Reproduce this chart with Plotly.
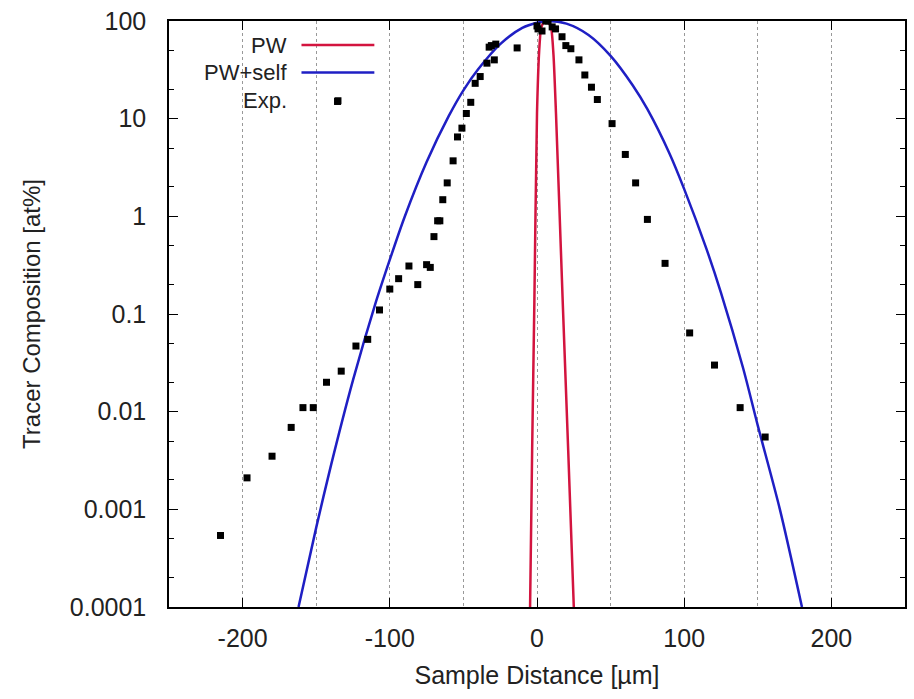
import plotly.graph_objects as go

# ---- data ----
exp_x = [-215, -197, -180, -167, -159, -152, -143, -135.5, -133, -123, -115, -107, -100, -94, -87, -81,
         -75, -72.5, -70, -67.5, -66, -64, -61, -57, -54, -51, -48, -45, -42, -38.6, -34, -32.5,
         -31, -29, -28, -13.5, 0, 0.7, 3.4, 6, 7.5, 10.3, 12.6, 17, 19.6, 23, 28.5, 32.5, 37, 41,
         51, 60, 67, 75, 87, 103.7, 120.6, 138, 155]
exp_y = [0.00054, 0.0021, 0.0035, 0.0069, 0.011, 0.011, 0.020, 15, 0.026, 0.047, 0.055, 0.11, 0.18, 0.23, 0.31, 0.20,
         0.32, 0.30, 0.62, 0.9, 0.9, 1.48, 2.2, 3.7, 6.5, 8.0, 11.3, 14.7, 23, 27, 37, 54,
         56, 40, 58, 53, 89, 83, 79, 100, 100, 87, 83, 69, 56, 52, 40, 28, 21, 15.7,
         8.9, 4.3, 2.2, 0.93, 0.33, 0.064, 0.030, 0.011, 0.0055]

pw_x = [-4.7, -3.3, -1.8, 0, 1.5, 2.7, 4.5, 6, 7.5, 9.5, 11.2, 12.9, 17.5, 21.2, 25]
pw_y = [0.0001, 0.004, 0.13, 11.3, 50, 83, 97, 100, 97, 87, 45, 11.3, 0.13, 0.004, 0.0001]

self_x = [-162, -150, -140, -125, -110, -100, -90, -75, -60, -50, -40, -25, -10, 0, 8,
          20, 35, 50, 65, 75, 90, 100, 115, 125, 140, 150, 165, 180]
self_y = [0.0001, 0.00065, 0.0028, 0.021, 0.125, 0.36, 0.98, 3.6, 10.6, 19.5, 32, 58, 85, 96, 100,
          94, 72, 44, 22, 12.5, 4.4, 1.9, 0.47, 0.165, 0.028, 0.0072, 0.001, 0.0001]

y_tickvals = [100, 10, 1, 0.1, 0.01, 0.001, 0.0001]
y_ticktext = ["100", "10", "1", "0.1", "0.01", "0.001", "0.0001"]
x_tickvals = [-200, -100, 0, 100, 200]
x_ticktext = ["-200", "-100", "0", "100", "200"]

legend_names = ["PW", "PW+self", "Exp."]

RED = "#d3143f"
BLUE = "#1f1fc4"
FONT = "Liberation Sans, Arial, sans-serif"

fig = go.Figure()
fig.add_trace(go.Scatter(x=pw_x, y=pw_y, mode="lines", name=legend_names[0],
                         line=dict(color=RED, width=2.5, shape="spline", smoothing=0.6),
                         showlegend=False))
fig.add_trace(go.Scatter(x=self_x, y=self_y, mode="lines", name=legend_names[1],
                         line=dict(color=BLUE, width=2.5, shape="spline", smoothing=0.8),
                         showlegend=False))
fig.add_trace(go.Scatter(x=exp_x, y=exp_y, mode="markers", name=legend_names[2],
                         marker=dict(symbol="square", size=7, color="black"),
                         showlegend=False))

# ---- gnuplot-style legend (text right, sample left) ----
rows_y = [0.959, 0.912, 0.864]
colors = [RED, BLUE, "black"]
for i, name in enumerate(legend_names):
    fig.add_annotation(x=0.163, y=rows_y[i], xref="paper", yref="paper", text=name,
                       showarrow=False, xanchor="right", yanchor="middle",
                       font=dict(family=FONT, size=22, color="#222"))
    if i < 2:
        fig.add_shape(type="line", xref="paper", yref="paper", x0=0.180, x1=0.279,
                      y0=rows_y[i], y1=rows_y[i], line=dict(color=colors[i], width=2.5))
    else:
        fig.add_shape(type="rect", xref="paper", yref="paper", x0=0.2296 - 0.0047, x1=0.2296 + 0.0047,
                      y0=rows_y[i] - 0.0059, y1=rows_y[i] + 0.0059, fillcolor="black",
                      line=dict(width=0))

fig.update_layout(
    width=914, height=699,
    margin=dict(l=169, r=7, t=17, b=92),
    paper_bgcolor="white", plot_bgcolor="white",
    font=dict(family=FONT, size=24, color="#222"),
    showlegend=False,
)
fig.update_xaxes(
    range=[-250, 250], tickvals=x_tickvals, ticktext=x_ticktext,
    ticks="inside", ticklen=9, tickwidth=1.2, tickcolor="black",
    showline=True, linecolor="black", linewidth=1.5, mirror="ticks",
    showgrid=True, gridcolor="#999", griddash="dot", gridwidth=1, zeroline=False,
    minor=dict(dtick=50, showgrid=True, gridcolor="#999", griddash="dot", gridwidth=1, ticks=""),
    tickfont=dict(size=25), ticklabelstandoff=8,
    title=dict(text="Sample Distance [µm]", font=dict(size=25), standoff=16),
)
fig.update_yaxes(
    type="log", range=[-4, 2], tickvals=y_tickvals, ticktext=y_ticktext,
    ticks="inside", ticklen=9, tickwidth=1.2, tickcolor="black",
    showline=True, linecolor="black", linewidth=1.5, mirror="ticks",
    showgrid=False, zeroline=False,
    minor=dict(dtick="D2", ticks="inside", ticklen=5, tickcolor="black", showgrid=False),
    tickfont=dict(size=25), ticklabelstandoff=16,
    title=dict(text="Tracer Composition [at%]", font=dict(size=24), standoff=22),
)

fig.write_html("out.html")
